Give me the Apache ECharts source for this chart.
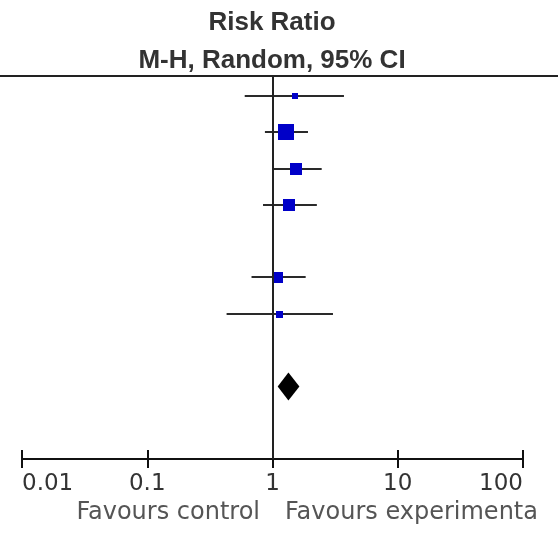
<!DOCTYPE html>
<html>
<head>
<meta charset="utf-8">
<script src="https://cdn.jsdelivr.net/npm/echarts@6/dist/echarts.min.js"></script>
<style>
html, body { margin: 0; padding: 0; background: #fff; }
#main { width: 558px; height: 533px; }
</style>
</head>
<body>
<div id="main"></div>
<script>
// study rows (row index counts from the top, gaps are empty rows)
var rowIndex = [0, 1, 2, 3, 5, 6];
var riskRatio = [1.50, 1.29, 1.53, 1.35, 1.10, 1.14];
var ciLower = [0.60, 0.87, 1.00, 0.84, 0.68, 0.43];
var ciUpper = [3.72, 1.92, 2.47, 2.26, 1.84, 3.04];
var weights = [4.2, 34.4, 20.1, 18.5, 16.9, 5.9];

// pooled estimate (diamond)
var pooledRow = 8;
var pooledRR = 1.34;
var pooledLower = 1.10;
var pooledUpper = 1.64;

var tickLabels = ['0.01', '0.1', '1', '10', '100'];

var studyData = rowIndex.map(function (r, i) {
    return [ciLower[i], ciUpper[i], riskRatio[i], r, weights[i]];
});

function renderStudy(params, api) {
    var y = api.value(3);
    var a = api.coord([api.value(0), y]);
    var b = api.coord([api.value(1), y]);
    var c = api.coord([api.value(2), y]);
    var py = Math.round(a[1]);
    var s = Math.round(Math.sqrt(api.value(4)) * 2.7);
    return {
        type: 'group',
        children: [
            { type: 'line', shape: { x1: a[0], y1: py, x2: b[0], y2: py },
              style: { stroke: '#2a2a2a', lineWidth: 2 } },
            { type: 'rect', shape: { x: Math.round(c[0] - s / 2), y: Math.round(py - s / 2), width: s, height: s },
              style: { fill: '#0000c8' } }
        ]
    };
}

function renderDiamond(params, api) {
    var y = api.value(3);
    var lo = api.coord([api.value(0), y]);
    var hi = api.coord([api.value(1), y]);
    var mid = api.coord([api.value(2), y]);
    var h = 14;
    return {
        type: 'polygon',
        shape: { points: [[lo[0], lo[1]], [mid[0], mid[1] - h], [hi[0], hi[1]], [mid[0], mid[1] + h]] },
        style: { fill: '#000' }
    };
}

var myChart = echarts.init(document.getElementById('main'), null, { renderer: 'canvas' });
var option = {
    animation: false,
    grid: { left: 22, right: 35, top: 76, bottom: 74 },
    xAxis: [{
        type: 'log',
        logBase: 10,
        min: 0.01,
        max: 100,
        position: 'bottom',
        axisLine: { show: true, onZero: false, lineStyle: { color: '#111', width: 2 } },
        axisTick: { show: true, inside: false, length: 9, lineStyle: { color: '#111', width: 2 } },
        axisLabel: {
            show: true,
            margin: 14,
            color: '#333',
            fontFamily: 'DejaVu Sans',
            fontSize: 23,
            alignMinLabel: 'left',
            alignMaxLabel: 'right',
            formatter: function (v) {
                return tickLabels[Math.round(Math.log10(v)) + 2];
            }
        },
        splitLine: { show: false },
        minorTick: { show: false }
    }, {
        type: 'log',
        logBase: 10,
        min: 0.01,
        max: 100,
        position: 'bottom',
        axisLine: { show: false, onZero: false },
        axisTick: { show: true, inside: true, length: 9, lineStyle: { color: '#111', width: 2 } },
        axisLabel: { show: false },
        splitLine: { show: false }
    }],
    yAxis: {
        type: 'value',
        inverse: true,
        min: -0.55,
        max: 10,
        show: false
    },
    series: [{
        type: 'custom',
        name: 'studies',
        xAxisIndex: 0,
        renderItem: renderStudy,
        encode: { x: [0, 1, 2], y: 3 },
        data: studyData,
        z: 3,
        markLine: {
            silent: true,
            symbol: 'none',
            label: { show: false },
            lineStyle: { color: '#222', width: 2, type: 'solid' },
            data: [{ xAxis: 1 }]
        }
    }, {
        type: 'custom',
        name: 'pooled',
        xAxisIndex: 0,
        renderItem: renderDiamond,
        encode: { x: [0, 1, 2], y: 3 },
        data: [[pooledLower, pooledUpper, pooledRR, pooledRow]],
        z: 4
    }],
    graphic: [
        { type: 'line', shape: { x1: 0, y1: 76, x2: 558, y2: 76 },
          style: { stroke: '#222', lineWidth: 2 } },
        { type: 'text', x: 272, y: 23,
          style: { text: 'Risk Ratio', fontFamily: 'Liberation Sans', fontWeight: 'bold', fontSize: 26,
                   fill: '#333', align: 'center', verticalAlign: 'middle' } },
        { type: 'text', x: 272, y: 61,
          style: { text: 'M-H, Random, 95% CI', fontFamily: 'Liberation Sans', fontWeight: 'bold', fontSize: 26,
                   fill: '#333', align: 'center', verticalAlign: 'middle' } },
        { type: 'text', x: 260, y: 513,
          style: { text: 'Favours control', fontFamily: 'DejaVu Sans', fontSize: 24,
                   fill: '#555', align: 'right', verticalAlign: 'middle' } },
        { type: 'text', x: 285, y: 513,
          style: { text: 'Favours experimenta', fontFamily: 'DejaVu Sans', fontSize: 24,
                   fill: '#555', align: 'left', verticalAlign: 'middle' } }
    ]
};
myChart.setOption(option);
</script>
</body>
</html>
